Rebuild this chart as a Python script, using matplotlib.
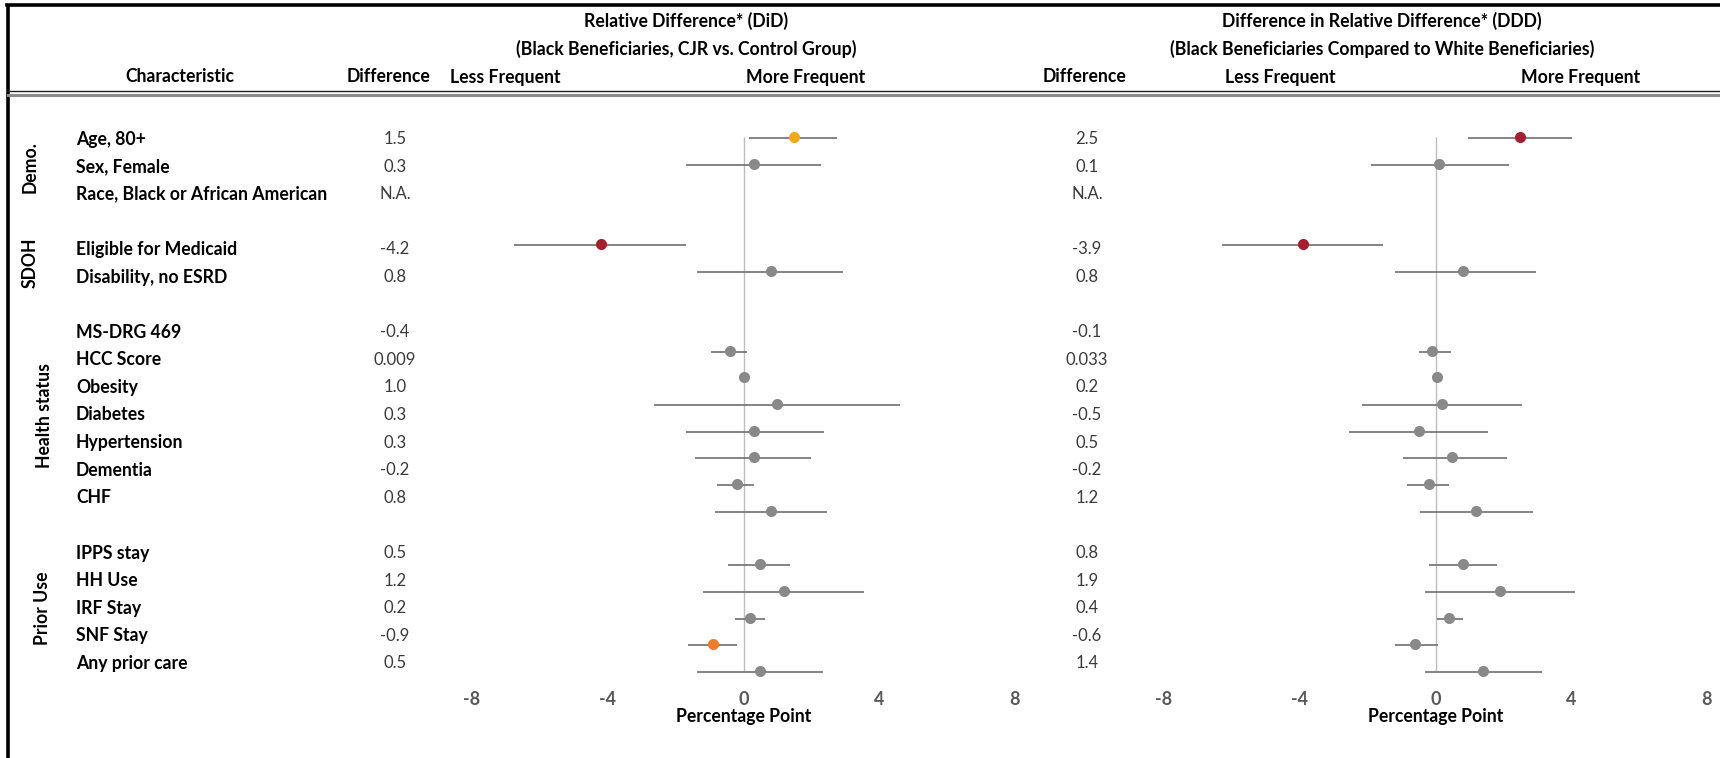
"""Forest plot of DiD and DDD estimates by beneficiary characteristic."""
import numpy as np
import matplotlib
matplotlib.use("Agg")
import matplotlib.pyplot as plt

plt.rcParams["font.family"] = ["Lato", "DejaVu Sans"]

# ---- data -------------------------------------------------------------
groups = ["Demo.", "SDOH", "Health status", "Prior Use"]
group_items = [
    ["Age, 80+", "Sex, Female", "Race, Black or African American"],
    ["Eligible for Medicaid", "Disability, no ESRD"],
    ["MS-DRG 469", "HCC Score", "Obesity", "Diabetes", "Hypertension",
     "Dementia", "CHF"],
    ["IPPS stay", "HH Use", "IRF Stay", "SNF Stay", "Any prior care"],
]

nan = np.nan
# relative difference (DiD), Black beneficiaries, CJR vs control
did = [1.5, 0.3, nan, -4.2, 0.8, -0.4, 0.009, 1.0, 0.3, 0.3, -0.2, 0.8,
       0.5, 1.2, 0.2, -0.9, 0.5]
did_lo = [0.15, -1.68, nan, -6.76, -1.36, -0.95, -0.03, -2.64, -1.68, -1.44,
          -0.77, -0.85, -0.46, -1.18, -0.24, -1.64, -1.38]
did_hi = [2.76, 2.29, nan, -1.68, 2.94, 0.11, 0.05, 4.6, 2.36, 2.0, 0.3,
          2.46, 1.38, 3.56, 0.62, -0.2, 2.33]

# difference in relative difference (DDD), Black vs White beneficiaries
ddd = [2.5, 0.1, nan, -3.9, 0.8, -0.1, 0.033, 0.2, -0.5, 0.5, -0.2, 1.2,
       0.8, 1.9, 0.4, -0.6, 1.4]
ddd_lo = [0.97, -1.9, nan, -6.28, -1.2, -0.5, -0.02, -2.18, -2.56, -0.97,
          -0.85, -0.47, -0.18, -0.3, 0.03, -1.2, -0.3]
ddd_hi = [4.03, 2.17, nan, -1.56, 2.97, 0.47, 0.09, 2.56, 1.56, 2.12, 0.4,
          2.88, 1.8, 4.1, 0.82, 0.07, 3.15]

ticks = [-8, -4, 0, 4, 8]

# ---- styling ----------------------------------------------------------
GREY_DOT = "#898989"
GREY_BAR = "#6f6f6f"
did_colors = {"Age, 80+": "#F5A81C", "Eligible for Medicaid": "#A4202F",
              "SNF Stay": "#EC7C2E"}
ddd_colors = {"Age, 80+": "#A4202F", "Eligible for Medicaid": "#A4202F"}
FS = 12.7

W, H = 1720, 758
fig = plt.figure(figsize=(W / 100, H / 100), dpi=100)
bg = fig.add_axes([0, 0, 1, 1])
bg.set_xlim(0, W)
bg.set_ylim(H, 0)
bg.axis("off")


def slots(gaps):
    """Row slot for each item, leaving `gaps[i]` empty rows after group i."""
    out, pos = [], 0
    for gi, items in enumerate(group_items):
        for _ in items:
            out.append(pos)
            pos += 1
        if gi < len(gaps):
            pos += gaps[gi]
    return out


labels = [name for items in group_items for name in items]
text_rows = slots([1, 1, 1])
dot_rows = slots([1, 2, 1])

ROW0, ROW_H = 139, 27.6      # text rows (pixels)
DOT0, DOT_H = 137, 26.7      # marker rows (pixels)


def fmt(v):
    if np.isnan(v):
        return "N.A."
    if abs(v) < 0.05:
        return f"{v:.3f}"
    return f"{v:.1f}"


# frame and header rules
bg.plot([8, 8], [4, H], color="black", lw=2.6, solid_capstyle="butt")
bg.plot([7, W], [5, 5], color="black", lw=2.6)
bg.plot([8, W], [91, 91], color="#222222", lw=1.0)
bg.plot([8, W], [94.5, 94.5], color="#8c8c8c", lw=2.2)

hdr = dict(fontsize=FS, fontweight="bold", ha="center", va="center")
bg.text(686, 21, "Relative Difference* (DiD)", **hdr)
bg.text(686, 49, "(Black Beneficiaries, CJR vs. Control Group)", **hdr)
bg.text(1382, 21, "Difference in Relative Difference* (DDD)", **hdr)
bg.text(1382, 49, "(Black Beneficiaries Compared to White Beneficiaries)", **hdr)

bg.text(180, 77, "Characteristic", **hdr)
bg.text(388, 77, "Difference", **hdr)
bg.text(505, 77, "Less Frequent", **hdr)
bg.text(806, 77, "More Frequent", **hdr)
bg.text(1085, 77, "Difference", **hdr)
bg.text(1280, 77, "Less Frequent", **hdr)
bg.text(1581, 77, "More Frequent", **hdr)

# row labels and printed differences
for name, r, a, b in zip(labels, text_rows, did, ddd):
    y = ROW0 + r * ROW_H
    bg.text(76, y, name, fontsize=FS, fontweight="bold", va="center")
    bg.text(395, y, fmt(a), fontsize=12, color="#3a3a3a",
            ha="center", va="center")
    bg.text(1087, y, fmt(b), fontsize=12, color="#3a3a3a",
            ha="center", va="center")

# rotated group labels
start = 0
group_x = [30, 30, 44, 42]
for g, items, gx in zip(groups, group_items, group_x):
    rows = text_rows[start:start + len(items)]
    yc = ROW0 + (rows[0] + rows[-1]) / 2 * ROW_H
    bg.text(gx, yc, g, fontsize=FS, fontweight="bold", rotation=90,
            ha="center", va="center")
    start += len(items)


def forest(x0, est, lo, hi, colors):
    top_px, bot_px = 110, 688
    ax = fig.add_axes([x0 / W, 1 - bot_px / H, 543 / W, (bot_px - top_px) / H])
    ax.patch.set_alpha(0)
    ax.set_xlim(-8, 8)
    ax.set_ylim((bot_px - DOT0) / DOT_H, (top_px - DOT0) / DOT_H)
    for s in ax.spines.values():
        s.set_visible(False)
    ax.set_yticks([])
    ax.set_xticks(ticks)
    ax.set_xticklabels([str(t) for t in ticks])
    ax.tick_params(axis="x", length=0, pad=2, labelsize=13,
                   labelcolor="#595959")
    for lab in ax.get_xticklabels():
        lab.set_fontweight("bold")
    ax.set_xlabel("Percentage Point", fontsize=FS, fontweight="bold",
                  labelpad=0)
    ax.vlines(0, dot_rows[0], dot_rows[-1], color="#bdbdbd", lw=1.0, zorder=1)
    for name, r, v, a, b in zip(labels, dot_rows, est, lo, hi):
        if np.isnan(v):
            continue
        ax.hlines(r + 0.04, a, b, color=GREY_BAR, lw=1.2, zorder=2)
        ax.plot(v, r, "o", ms=8, mew=0, color=colors.get(name, GREY_DOT),
                zorder=3)
    return ax


forest(472, did, did_lo, did_hi, did_colors)
forest(1164, ddd, ddd_lo, ddd_hi, ddd_colors)

fig.savefig("out.png", dpi=100)
